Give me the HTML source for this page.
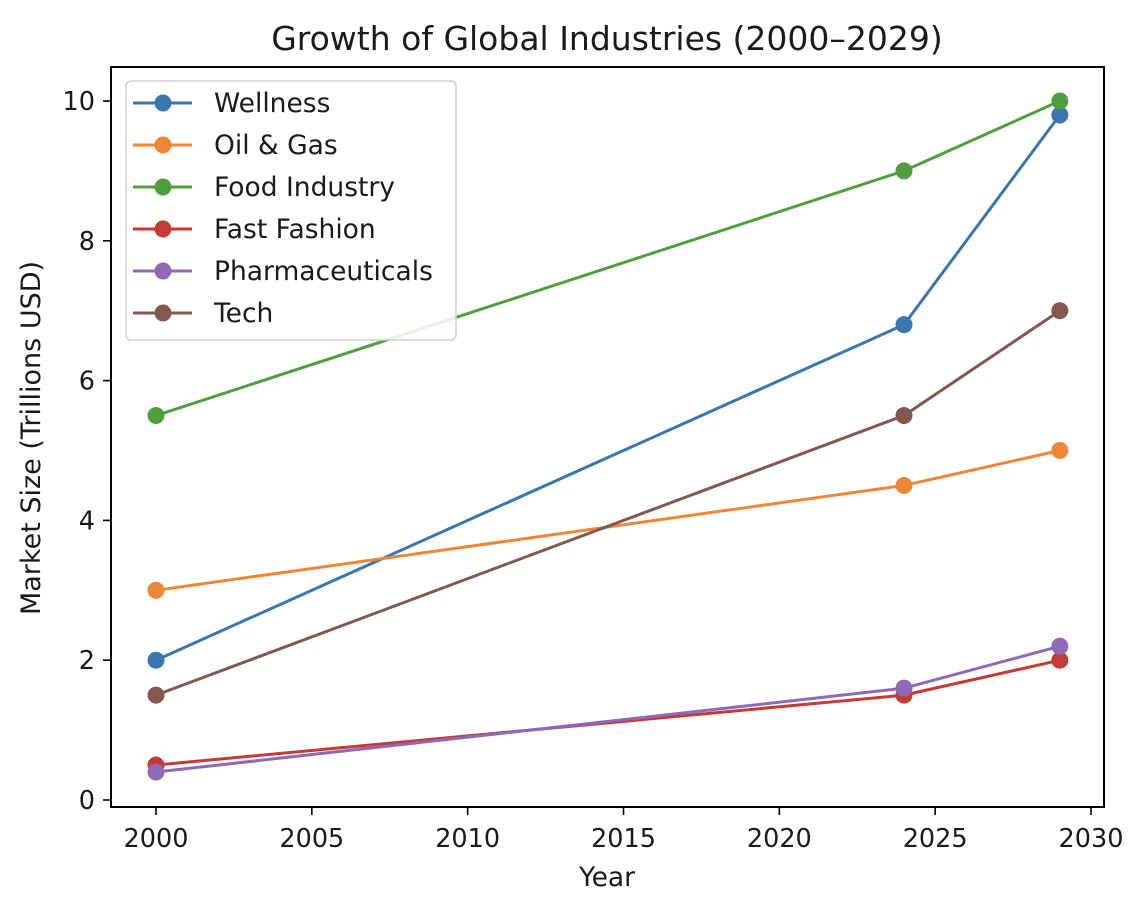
<!DOCTYPE html>
<html><head><meta charset="utf-8"><style>
body{margin:0;background:#fff;}
svg text{font-family:"DejaVu Sans","Liberation Sans",sans-serif;fill:#1a1a1a;}
</style></head><body>
<svg id="c" width="1132" height="906" xmlns="http://www.w3.org/2000/svg">
<rect width="1132" height="906" fill="#fff"/>
<text x="607" y="50" font-size="33" text-anchor="middle">Growth of Global Industries (2000–2029)</text>
<g id="grid"></g>
<g id="series"></g>
<rect x="111" y="67" width="993" height="740" fill="none" stroke="#000" stroke-width="2"/>
<text x="607" y="886" font-size="26.5" text-anchor="middle">Year</text>
<text transform="translate(40,438) rotate(-90)" font-size="27" text-anchor="middle">Market Size (Trillions USD)</text>
<g id="legend"></g>
</svg>
<script>
const years = [2000, 2024, 2029];
const seriesNames = ["Wellness","Oil & Gas","Food Industry","Fast Fashion","Pharmaceuticals","Tech"];
const wellness = [2, 6.8, 9.8];
const oilGas = [3, 4.5, 5];
const food = [5.5, 9, 10];
const fastFashion = [0.5, 1.5, 2];
const pharma = [0.4, 1.6, 2.2];
const tech = [1.5, 5.5, 7];
const xTicks = [2000,2005,2010,2015,2020,2025,2030];
const yTicks = [0,2,4,6,8,10];
const colors = ["#3a76af","#ef8636","#519e3e","#c53a32","#8d69b8","#84584e"];
const allSeries = [wellness, oilGas, food, fastFashion, pharma, tech];
const NS="http://www.w3.org/2000/svg";
const X = v => 156 + (v-2000)*(1091-156)/30;
const Y = v => 800 - v*69.9;
function mk(t,a,p){const e=document.createElementNS(NS,t);for(const k in a)e.setAttribute(k,a[k]);p.appendChild(e);return e;}
const g=document.getElementById('grid');
xTicks.forEach(t=>{
  const l=mk('line',{x1:X(t),x2:X(t),y1:807,y2:815,stroke:'#000','stroke-width':1.6},g);
  
  
  const tx=mk('text',{x:X(t),y:847,'font-size':25.5,'text-anchor':'middle'},g);tx.textContent=t;
  
  
});
yTicks.forEach(t=>{
  const l=mk('line',{x1:103,x2:111,y1:Y(t),y2:Y(t),stroke:'#000','stroke-width':1.6},g);
  
  
  const tx=mk('text',{x:95,y:Y(t)+9,'font-size':25.5,'text-anchor':'end'},g);tx.textContent=t;
  
  
});
const s=document.getElementById('series');
allSeries.forEach((vals,i)=>{
  const grp=mk('g',{},s);
  
  
  mk('polyline',{points:vals.map((v,j)=>X(years[j])+','+Y(v)).join(' '),fill:'none',stroke:colors[i],'stroke-width':3},grp);
  vals.forEach((v,j)=>{
    const c=mk('circle',{cx:X(years[j]),cy:Y(v),r:8.5,fill:colors[i]},grp);
    
    
  });
});
const lg=document.getElementById('legend');
const box=mk('rect',{x:126,y:81,width:330,height:259,rx:5,fill:'#fff','fill-opacity':0.85,stroke:'#d0d0d0','stroke-width':1.5},lg);


seriesNames.forEach((n,i)=>{
  const y=103+i*42;
  const e=mk('g',{},lg);
  
  
  mk('line',{x1:133,x2:192,y1:y,y2:y,stroke:colors[i],'stroke-width':3},e);
  mk('circle',{cx:163,cy:y,r:8.5,fill:colors[i]},e);
  const t=mk('text',{x:214,y:y+9,'font-size':26.5},e);t.textContent=n;
});
</script>
</body></html>
